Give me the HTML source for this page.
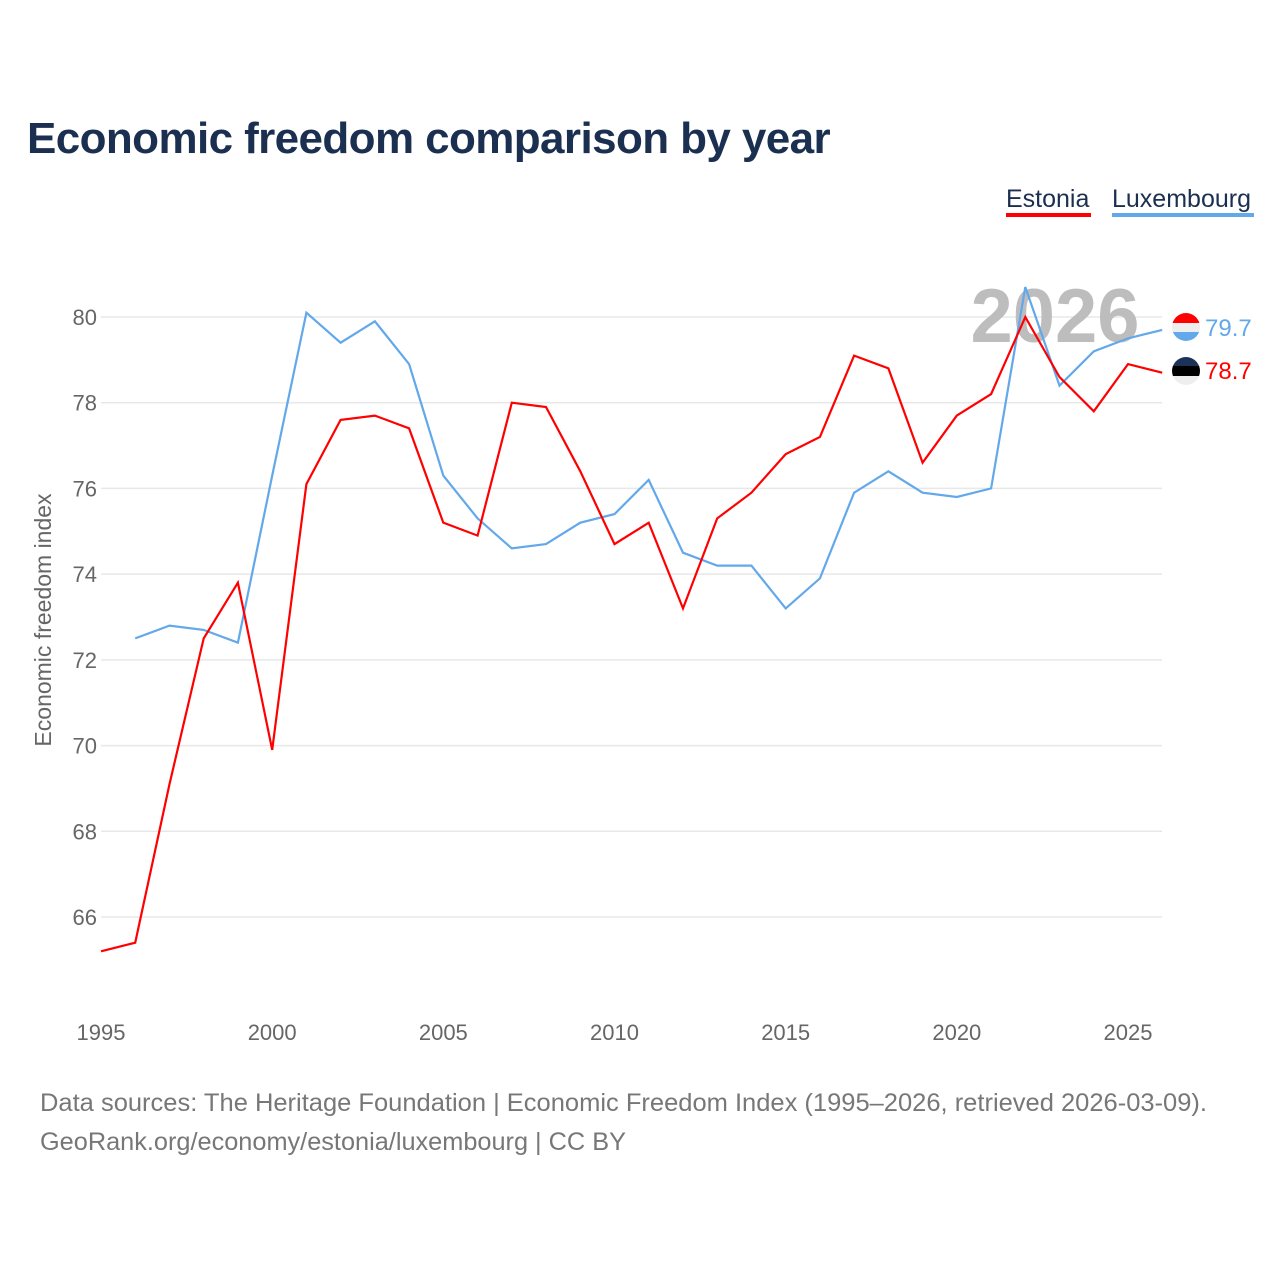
<!DOCTYPE html>
<html><head><meta charset="utf-8"><style>
body{margin:0;background:#fff;width:1280px;height:1280px;overflow:hidden;font-family:"Liberation Sans",sans-serif}
</style></head><body>
<svg width="1280" height="1280" xmlns="http://www.w3.org/2000/svg">
<text x="27" y="153" font-size="44" font-weight="bold" fill="#1b2f50" style="letter-spacing:-0.6px">Economic freedom comparison by year</text>
<g>
<text x="1006" y="207" font-size="25" fill="#1b2f50">Estonia</text>
<rect x="1006" y="213" width="85" height="4" fill="#ff0000"/>
<text x="1112" y="207" font-size="25" fill="#1b2f50">Luxembourg</text>
<rect x="1112" y="213" width="142" height="4" fill="#62a8ea"/>
</g>
<g id="grid"></g>
<g id="yt"></g>
<g id="xt"></g>
<text x="1055" y="342" font-size="76" font-weight="bold" fill="#bdbdbd" text-anchor="middle">2026</text>
<text transform="translate(51,620) rotate(-90)" font-size="23" fill="#666" text-anchor="middle">Economic freedom index</text>
<g id="series"></g>
<g>
<clipPath id="c1"><circle cx="1186" cy="327" r="14"/></clipPath>
<g clip-path="url(#c1)"><rect x="1172" y="313" width="28" height="10" fill="#f00"/><rect x="1172" y="323" width="28" height="9" fill="#eee"/><rect x="1172" y="332" width="28" height="10" fill="#62a8ea"/></g>
<clipPath id="c2"><circle cx="1186" cy="371" r="14"/></clipPath>
<g clip-path="url(#c2)"><rect x="1172" y="357" width="28" height="10" fill="#1b3358"/><rect x="1172" y="366" width="28" height="10" fill="#000"/><rect x="1172" y="376" width="28" height="10" fill="#eee"/></g>
<text x="1205" y="336" font-size="24" fill="#62a8ea">79.7</text>
<text x="1205" y="379" font-size="24" fill="#f00">78.7</text>
</g>
<text x="40" y="1111" font-size="25" fill="#777" textLength="1167" lengthAdjust="spacingAndGlyphs">Data sources: The Heritage Foundation | Economic Freedom Index (1995–2026, retrieved 2026-03-09).</text>
<text x="40" y="1150" font-size="25" fill="#777" textLength="586" lengthAdjust="spacingAndGlyphs">GeoRank.org/economy/estonia/luxembourg | CC BY</text>
</svg>
<script>
const years=[1995,1996,1997,1998,1999,2000,2001,2002,2003,2004,2005,2006,2007,2008,2009,2010,2011,2012,2013,2014,2015,2016,2017,2018,2019,2020,2021,2022,2023,2024,2025,2026];
const estonia=[65.2,65.4,69.1,72.5,73.8,69.9,76.1,77.6,77.7,77.4,75.2,74.9,78.0,77.9,76.4,74.7,75.2,73.2,75.3,75.9,76.8,77.2,79.1,78.8,76.6,77.7,78.2,80.0,78.6,77.8,78.9,78.7];
const luxembourg=[null,72.5,72.8,72.7,72.4,76.3,80.1,79.4,79.9,78.9,76.3,75.3,74.6,74.7,75.2,75.4,76.2,74.5,74.2,74.2,73.2,73.9,75.9,76.4,75.9,75.8,76.0,80.7,78.4,79.2,79.5,79.7];
const yTicks=[66,68,70,72,74,76,78,80];
const xTicks=[1995,2000,2005,2010,2015,2020,2025];
const NS="http://www.w3.org/2000/svg";
const x=v=>101+(v-1995)*(1027/30);
const y=v=>317+(80-v)*(600/14);
const grid=document.getElementById('grid'),yt=document.getElementById('yt'),xt=document.getElementById('xt'),ser=document.getElementById('series');
yTicks.forEach(t=>{
 const l=document.createElementNS(NS,'line');
 
 
 l.setAttribute('x1',101);l.setAttribute('x2',1162);l.setAttribute('y1',y(t));l.setAttribute('y2',y(t));
 l.setAttribute('stroke','#e8e8e8');l.setAttribute('stroke-width','1.5');grid.appendChild(l);
 const tx=document.createElementNS(NS,'text');
 
 
 tx.setAttribute('x',97);tx.setAttribute('y',y(t)+8);tx.setAttribute('text-anchor','end');
 tx.setAttribute('font-size','22');tx.setAttribute('fill','#666');tx.textContent=t;yt.appendChild(tx);
});
xTicks.forEach(t=>{
 const tx=document.createElementNS(NS,'text');
 
 
 tx.setAttribute('x',x(t));tx.setAttribute('y',1040);tx.setAttribute('text-anchor','middle');
 tx.setAttribute('font-size','22');tx.setAttribute('fill','#666');tx.textContent=t;xt.appendChild(tx);
});
function line(vals,color,name){
 let d='';vals.forEach((v,i)=>{if(v==null)return;d+=(d?'L':'M')+x(years[i]).toFixed(1)+','+y(v).toFixed(1);});
 const p=document.createElementNS(NS,'path');
 
 
 p.setAttribute('d',d);p.setAttribute('fill','none');p.setAttribute('stroke',color);p.setAttribute('stroke-width','2.2');
 ser.appendChild(p);
}
line(luxembourg,'#62a8ea','luxembourg-line');
line(estonia,'#ff0000','estonia-line');
</script>
</body></html>
